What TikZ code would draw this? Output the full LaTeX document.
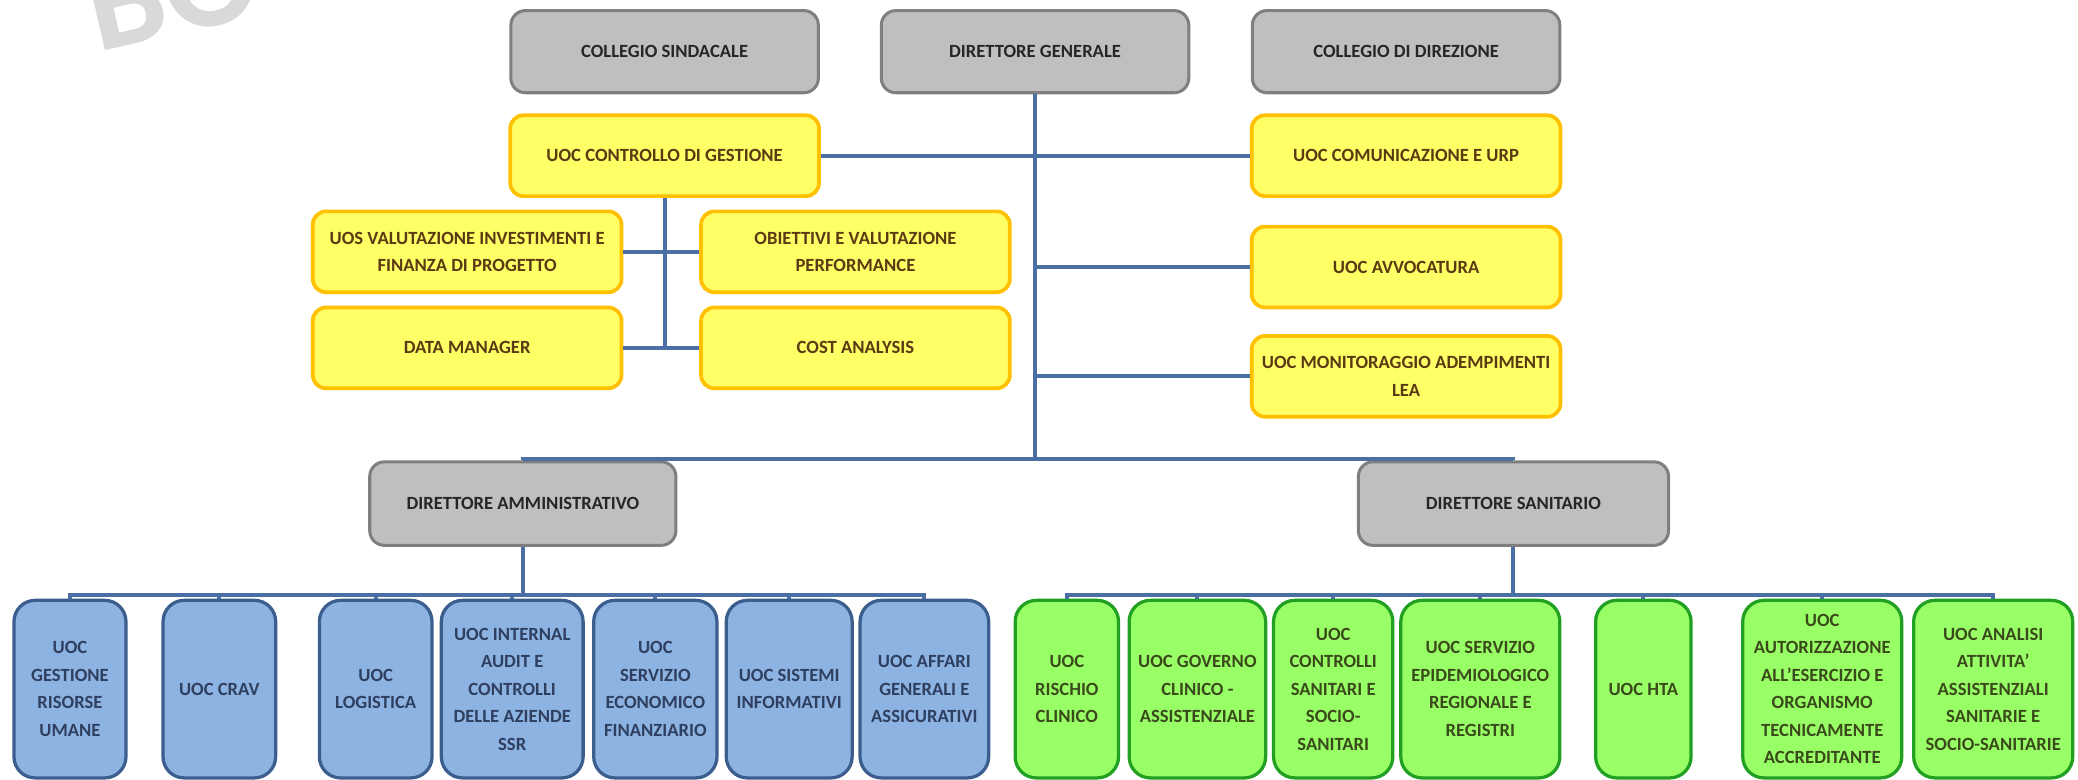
\documentclass[tikz,border=0pt]{standalone}
\usepackage{fontspec}
\setmainfont{Carlito}
\usepackage{tikz}
\definecolor{lineablu}{HTML}{4A6FA5}
\definecolor{grigiofondo}{HTML}{BFBFBF}
\definecolor{grigiobordo}{HTML}{7F7F7F}
\definecolor{giallofondo}{HTML}{FFFF66}
\definecolor{giallobordo}{HTML}{FFC000}
\definecolor{gialloscritta}{HTML}{5A3A12}
\definecolor{blufondo}{HTML}{8DB3E2}
\definecolor{blubordo}{HTML}{3B5E8F}
\definecolor{bluscritta}{HTML}{2F3F5F}
\definecolor{verdefondo}{HTML}{99FF66}
\definecolor{verdebordo}{HTML}{22A022}
\definecolor{verdescritta}{HTML}{3A4A1A}

\begin{document}
\begin{tikzpicture}[
	testo/.style={font=\fontsize{8}{11.8}\selectfont\bfseries, align=center, inner sep=0pt},
	grigio/.style={testo, draw=grigiobordo, fill=grigiofondo, line width=1.3pt, rounded corners=0.22cm, minimum width=4.64cm, minimum height=1.24cm, text=black!85},
	giallo/.style={testo, draw=giallobordo, fill=giallofondo, line width=1.6pt, rounded corners=0.2cm, minimum width=4.66cm, minimum height=1.22cm, text=gialloscritta},
	blu/.style={testo, draw=blubordo, fill=blufondo, line width=1.4pt, rounded corners=0.32cm, minimum height=2.68cm, text=bluscritta},
	verde/.style={testo, draw=verdebordo, fill=verdefondo, line width=1.4pt, rounded corners=0.32cm, minimum height=2.68cm, text=verdescritta},
	linea/.style={draw=lineablu, line width=1.7pt}
]
	\useasboundingbox (0,0) rectangle (31.36,-11.76);
	\clip (0,0) rectangle (31.36,-11.76);
	\node[rotate=13, anchor=base west, inner sep=0pt, text=black!15, font=\fontsize{60}{60}\selectfont\bfseries] (bozza) at (1.46,-0.80) {BO};

	\node[grigio] (cs) at (10.03,-0.78) {COLLEGIO SINDACALE};
	\node[grigio] (dg) at (15.62,-0.78) {DIRETTORE GENERALE};
	\node[grigio] (cd) at (21.22,-0.78) {COLLEGIO DI DIREZIONE};
	\node[giallo] (ucg) at (10.03,-2.35) {UOC CONTROLLO DI GESTIONE};
	\node[giallo] (uos) at (7.05,-3.80) {UOS VALUTAZIONE INVESTIMENTI E\\FINANZA DI PROGETTO};
	\node[giallo] (obi) at (12.91,-3.80) {OBIETTIVI E VALUTAZIONE\\PERFORMANCE};
	\node[giallo] (dm) at (7.05,-5.25) {DATA MANAGER};
	\node[giallo] (ca) at (12.91,-5.25) {COST ANALYSIS};
	\node[giallo] (urp) at (21.22,-2.35) {UOC COMUNICAZIONE E URP};
	\node[giallo] (avv) at (21.22,-4.03) {UOC AVVOCATURA};
	\node[giallo] (lea) at (21.22,-5.68) {UOC MONITORAGGIO ADEMPIMENTI\\LEA};
	\node[grigio, minimum width=4.62cm, minimum height=1.26cm] (da) at (7.89,-7.60) {DIRETTORE AMMINISTRATIVO};
	\node[grigio, minimum width=4.68cm, minimum height=1.26cm] (ds) at (22.84,-7.60) {DIRETTORE SANITARIO};

	\node[blu, minimum width=1.69cm] (amm1) at (1.056,-10.40) {UOC\\GESTIONE\\RISORSE\\UMANE};
	\node[blu, minimum width=1.70cm] (amm2) at (3.31,-10.40) {UOC CRAV};
	\node[blu, minimum width=1.70cm] (amm3) at (5.67,-10.40) {UOC\\LOGISTICA};
	\node[blu, minimum width=2.14cm] (amm4) at (7.73,-10.40) {UOC INTERNAL\\AUDIT E\\CONTROLLI\\DELLE AZIENDE\\SSR};
	\node[blu, minimum width=1.86cm] (amm5) at (9.89,-10.40) {UOC\\SERVIZIO\\ECONOMICO\\FINANZIARIO};
	\node[blu, minimum width=1.90cm] (amm6) at (11.91,-10.40) {UOC SISTEMI\\INFORMATIVI};
	\node[blu, minimum width=1.94cm] (amm7) at (13.95,-10.40) {UOC AFFARI\\GENERALI E\\ASSICURATIVI};

	\node[verde, minimum width=1.56cm] (san1) at (16.10,-10.40) {UOC\\RISCHIO\\CLINICO};
	\node[verde, minimum width=2.06cm] (san2) at (18.07,-10.40) {UOC GOVERNO\\CLINICO -\\ASSISTENZIALE};
	\node[verde, minimum width=1.80cm] (san3) at (20.12,-10.40) {UOC\\CONTROLLI\\SANITARI E\\SOCIO-\\SANITARI};
	\node[verde, minimum width=2.40cm] (san4) at (22.34,-10.40) {UOC SERVIZIO\\EPIDEMIOLOGICO\\REGIONALE E\\REGISTRI};
	\node[verde, minimum width=1.44cm] (san5) at (24.80,-10.40) {UOC HTA};
	\node[verde, minimum width=2.40cm] (san6) at (27.50,-10.40) {UOC\\AUTORIZZAZIONE\\ALL’ESERCIZIO E\\ORGANISMO\\TECNICAMENTE\\ACCREDITANTE};
	\node[verde, minimum width=2.40cm] (san7) at (30.08,-10.40) {UOC ANALISI\\ATTIVITA’\\ASSISTENZIALI\\SANITARIE E\\SOCIO-SANITARIE};

	\coordinate (bivio) at (15.62,-6.92);
	\draw[linea] (dg.south) -- (bivio);
	\draw[linea] (bivio) -| (da.north);
	\draw[linea] (bivio) -| (ds.north);
	\draw[linea] (ucg.east) -- (urp.west);
	\draw[linea] (avv.west -| dg.south) -- (avv.west);
	\draw[linea] (lea.west -| dg.south) -- (lea.west);
	\draw[linea] (ucg.south) -- (ucg.south |- dm.east);
	\draw[linea] (uos.east) -- (obi.west);
	\draw[linea] (dm.east) -- (ca.west);
	\foreach \n in {1,...,7} {
		\draw[linea] (da.south) -- ++(0,-0.72) -| (amm\n.north);
		\draw[linea] (ds.south) -- ++(0,-0.72) -| (san\n.north);
	}
\end{tikzpicture}
\end{document}
